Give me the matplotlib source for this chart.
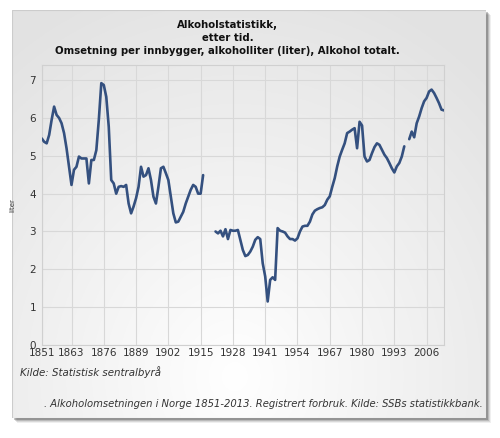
import numpy as np
import matplotlib
matplotlib.use("Agg")
import matplotlib.pyplot as plt
from matplotlib.patches import Rectangle

years = list(range(1851, 2014))
nan = np.nan
values = [
    # 1851-1860
    5.46, 5.37, 5.33, 5.55, 5.95, 6.30, 6.08, 6.00, 5.86, 5.60,
    # 1861-1870
    5.20, 4.71, 4.23, 4.63, 4.71, 4.98, 4.93, 4.93, 4.93, 4.27,
    # 1871-1880
    4.89, 4.89, 5.15, 5.95, 6.92, 6.87, 6.56, 5.77, 4.36, 4.27,
    # 1881-1890
    4.00, 4.18, 4.20, 4.18, 4.23, 3.74, 3.48, 3.66, 3.88, 4.18,
    # 1891-1900
    4.71, 4.45, 4.49, 4.67, 4.36, 3.92, 3.74, 4.18, 4.67, 4.71,
    # 1901-1910
    4.54, 4.36, 3.92, 3.48, 3.24, 3.26, 3.39, 3.52, 3.74, 3.92,
    # 1911-1920
    4.10, 4.23, 4.18, 4.00, 4.00, 4.49, nan, nan, nan, nan,
    # 1921-1930
    3.00, 2.95, 3.02, 2.87, 3.06, 2.80, 3.04, 3.02, 3.02, 3.04,
    # 1931-1940
    2.78, 2.51, 2.35, 2.38, 2.47, 2.60, 2.78, 2.85, 2.80, 2.16,
    # 1941-1950
    1.81, 1.15, 1.72, 1.79, 1.72, 3.09, 3.02, 3.00, 2.97, 2.87,
    # 1951-1960
    2.80, 2.80, 2.76, 2.82, 3.00, 3.13, 3.15, 3.15, 3.26, 3.45,
    # 1961-1970
    3.55, 3.59, 3.62, 3.64, 3.70, 3.84, 3.93, 4.18, 4.41, 4.72,
    # 1971-1980
    4.98, 5.16, 5.33, 5.60, 5.64, 5.69, 5.73, 5.20, 5.90, 5.80,
    # 1981-1990
    4.98, 4.85, 4.89, 5.07, 5.23, 5.33, 5.29, 5.16, 5.03, 4.94,
    # 1991-2000
    4.81, 4.67, 4.56, 4.72, 4.81, 4.98, 5.25, nan, 5.44, 5.64,
    # 2001-2010
    5.49, 5.86, 6.04, 6.26, 6.44, 6.53, 6.70, 6.75, 6.66, 6.53,
    # 2011-2013
    6.39, 6.22, 6.20,
]
xticks = [1851, 1863, 1876, 1889, 1902, 1915, 1928, 1941, 1954, 1967, 1980, 1993, 2006]
yticks = [0, 1, 2, 3, 4, 5, 6, 7]
title = "Alkoholstatistikk,\netter tid.\nOmsetning per innbygger, alkoholliter (liter), Alkohol totalt."
ylabel = "liter"
source = "Kilde: Statistisk sentralbyrå"
caption = ". Alkoholomsetningen i Norge 1851-2013. Registrert forbruk. Kilde: SSBs statistikkbank."

W, H = 500, 438
fig = plt.figure(figsize=(W / 100, H / 100), dpi=100)
fig.patch.set_facecolor("white")

# panel geometry (pixels)
px0, px1, py0, py1 = 12, 486, 10, 418

# drop shadow
for i, a in enumerate([0.08, 0.12, 0.18, 0.28]):
    off = 5 - i
    r = Rectangle(((px0 + off) / W, 1 - (py1 + off) / H), (px1 - px0) / W, (py1 - py0) / H,
                  transform=fig.transFigure, facecolor="#333333", edgecolor="none",
                  alpha=a, zorder=0)
    fig.patches.append(r)

# gradient panel
bg = fig.add_axes([px0 / W, 1 - py1 / H, (px1 - px0) / W, (py1 - py0) / H], zorder=1)
gx, gy = np.meshgrid(np.linspace(0, 1, 300), np.linspace(0, 1, 300))
d = np.sqrt(((gx - 0.47) / 0.7) ** 2 + ((gy - 0.9) / 0.9) ** 2)
lum = 1.0 - 0.10 * np.clip(d, 0, 1.1)
img = np.dstack([lum, lum, lum])
bg.imshow(img, aspect="auto", extent=[0, 1, 0, 1], origin="upper")
bg.set_axis_off()
bg.add_patch(Rectangle((0, 0), 1, 1, transform=bg.transAxes, fill=False,
                       edgecolor="#cccccc", lw=0.8))

ax = fig.add_axes([41.7 / W, 1 - 345 / H, (444 - 41.7) / W, (345 - 65) / H], zorder=2)
ax.patch.set_alpha(0)
ax.plot(years, values, color="#34507f", lw=1.9, solid_capstyle="round", zorder=3)
ax.set_xlim(1851, 2013)
ax.set_ylim(0, 7.4)
ax.set_xticks(xticks)
ax.set_yticks(yticks)
ax.grid(True, color="#d8d8d8", lw=0.8)
ax.tick_params(length=0, labelsize=7.5, colors="#333333", pad=2)
ax.tick_params(axis="y", pad=4)
for s in ax.spines.values():
    s.set_color("#d0d0d0")
    s.set_linewidth(0.8)
ax.set_ylabel(ylabel, fontsize=5, color="#333333", labelpad=10)

fig.text(0.455, 1 - 20 / H, title, ha="center", va="top", fontsize=7.3,
         fontweight="bold", color="#111111", linespacing=1.4)
fig.text(20 / W, 1 - 372 / H, source, ha="left", va="center", fontsize=7.4,
         style="italic", color="#333333")
fig.text(483 / W, 1 - 404 / H, caption, ha="right", va="center", fontsize=7.2,
         style="italic", color="#333333")

fig.savefig("out.png", dpi=100)
